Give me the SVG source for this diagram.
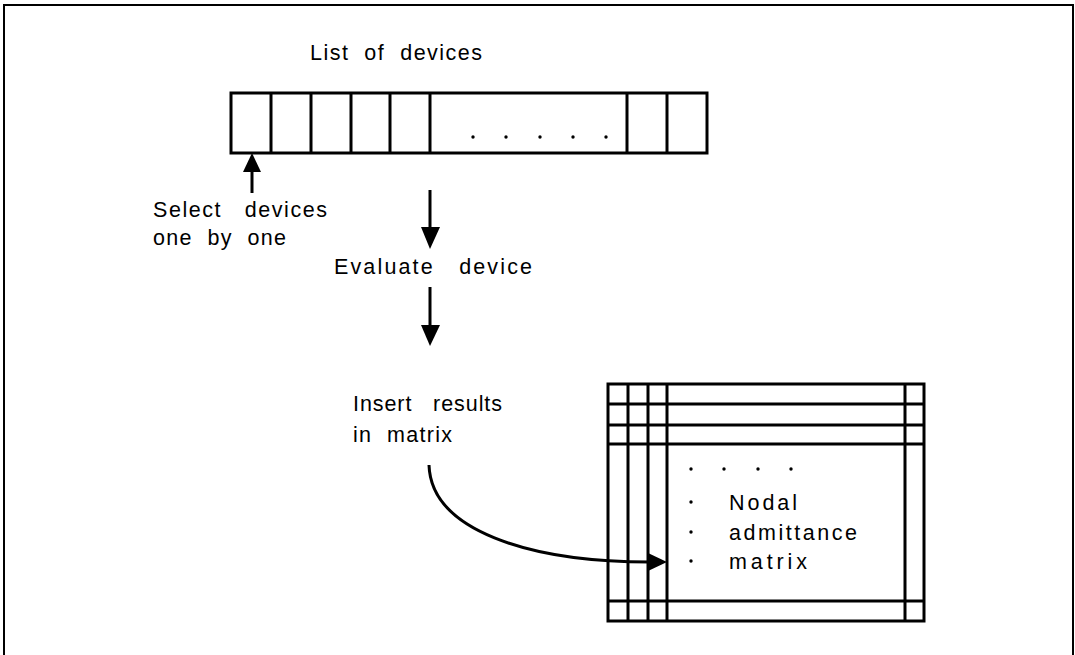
<svg xmlns="http://www.w3.org/2000/svg" width="1075" height="655" viewBox="0 0 1075 655">
<defs>
<style>
.t{font-family:"Liberation Sans",Arial,sans-serif;font-size:21.5px;fill:#000;white-space:pre}
.ln{stroke:#000;stroke-width:3;fill:none}
.thin{stroke:#000;stroke-width:2;fill:none}
.dot{fill:#000}
</style>
</defs>
<rect width="1075" height="655" fill="#fff"/>
<rect id="frame" x="4" y="5" width="1069" height="670" class="thin"/>

<g id="device-list">
<rect x="231" y="93" width="476" height="60" class="ln"/>
<path class="ln" d="M271 93V153M311 93V153M351 93V153M390 93V153M430 93V153M627 93V153M667 93V153"/>
<g class="dot"><circle cx="473" cy="137" r="1.7"/><circle cx="506" cy="137" r="1.7"/><circle cx="540" cy="137" r="1.7"/><circle cx="573" cy="137" r="1.7"/><circle cx="606" cy="137" r="1.7"/></g>
<text class="t" x="310" y="60" textLength="172" lengthAdjust="spacing">List  of  devices</text>
</g>

<g id="select-label">
<text class="t" x="153" y="217" textLength="174" lengthAdjust="spacing">Select   devices</text>
<text class="t" x="153" y="245" textLength="133" lengthAdjust="spacing">one  by  one</text>
</g>

<g id="evaluate-label">
<text class="t" x="334" y="274" textLength="198" lengthAdjust="spacing">Evaluate   device</text>
</g>

<g id="insert-label">
<text class="t" x="353" y="411" textLength="149" lengthAdjust="spacing">Insert   results</text>
<text class="t" x="353" y="442" textLength="99" lengthAdjust="spacing">in  matrix</text>
</g>

<g id="matrix">
<rect x="608" y="384" width="316" height="237" class="ln"/>
<path class="ln" d="M628 384V621M648 384V621M667 384V621M905 384V621M608 404H924M608 425H924M608 444H924M608 601H924"/>
<g class="dot"><circle cx="691" cy="469" r="1.7"/><circle cx="724" cy="469" r="1.7"/><circle cx="758" cy="469" r="1.7"/><circle cx="791" cy="469" r="1.7"/><circle cx="691" cy="502" r="1.7"/><circle cx="691" cy="532" r="1.7"/><circle cx="691" cy="561" r="1.7"/></g>
<text class="t" x="729" y="510" textLength="68" lengthAdjust="spacing">Nodal</text>
<text class="t" x="729" y="540" textLength="128" lengthAdjust="spacing">admittance</text>
<text class="t" x="729" y="569" textLength="78" lengthAdjust="spacing">matrix</text>
</g>

<g id="connectors">
<path class="ln" d="M252 193V168"/>
<polygon points="252,153 243,172 261,172"/>
<path class="ln" d="M430 190V230"/>
<polygon points="430,249 421,227 440,227"/>
<path class="ln" d="M430 287V328"/>
<polygon points="430,346 421,325 440,325"/>
<path class="ln" d="M429 465C431 530 528 562 650 562"/>
<polygon points="667,562 648,553 648,571"/>
</g>
</svg>
